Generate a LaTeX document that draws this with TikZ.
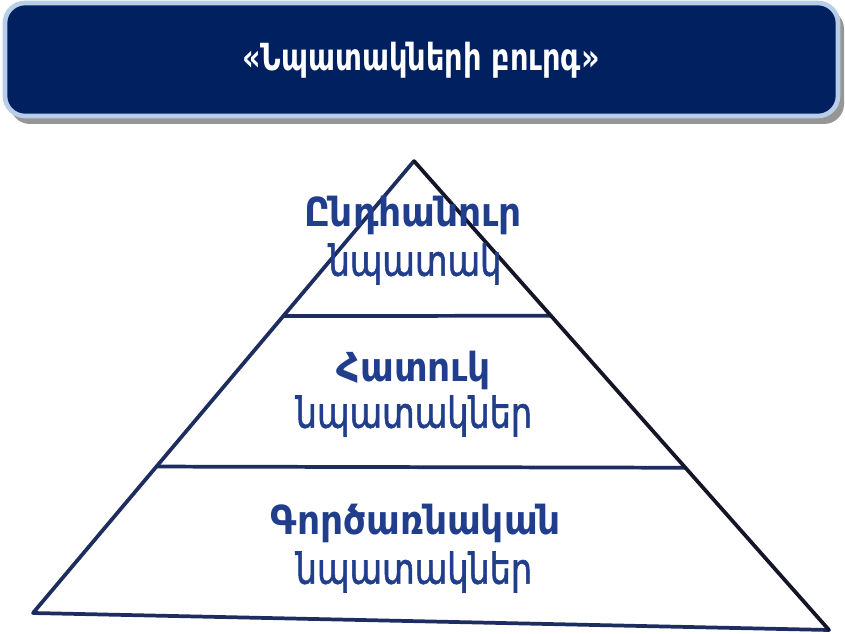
\documentclass[tikz,border=0pt]{standalone}
\usepackage{fontspec}
\usetikzlibrary{calc}
\newfontfamily\armfont{DejaVu Sans Condensed}
\newfontfamily\armsemi[FakeBold=1.4]{DejaVu Sans Condensed}
\definecolor{bannerfill}{RGB}{0,32,96}
\definecolor{bannerrim}{RGB}{184,206,232}
\definecolor{bannershadow}{RGB}{150,150,150}
\definecolor{edgenavy}{RGB}{30,45,95}
\definecolor{edgedark}{RGB}{20,22,40}
\definecolor{labelblue}{RGB}{32,62,140}
\newcommand{\tallsub}[1]{\scalebox{0.93}[1.06]{#1}}
\newcommand{\talltitle}[1]{\scalebox{0.96}[1.12]{#1}}
\tikzset{
  banner/.style={rounded corners=15, fill=bannerfill, draw=bannerrim, line width=3.5},
  edge/.style={line width=2.8, line join=round, line cap=round},
  levelhead/.style={text=labelblue, font=\armfont\bfseries\fontsize{30}{34}\selectfont, inner sep=0},
  levelsub/.style={text=labelblue, font=\armsemi\fontsize{30}{34}\selectfont, inner sep=0},
  titletext/.style={text=white, font=\armfont\bfseries\fontsize{25}{30}\selectfont, inner sep=0}
}
\begin{document}
\begin{tikzpicture}[x=0.75pt, y=-0.75pt]
  \useasboundingbox (0,0) rectangle (845,634);
  % title banner with its drop shadow
  \fill[bannershadow, rounded corners=15] (10,9) rectangle (844,124);
  \draw[banner] (5,3) rectangle (838,116);
  \node[titletext] (title) at (421,60) {\talltitle{«Նպատակների բուրգ»}};

  % pyramid corners and level boundaries
  \coordinate (apex) at (414,161);
  \coordinate (bl) at (33,613);
  \coordinate (br) at (829,630);
  \coordinate (l1) at ($(apex)!0.343!(bl)$);
  \coordinate (r1) at ($(apex)!0.330!(br)$);
  \coordinate (l2) at ($(apex)!0.676!(bl)$);
  \coordinate (r2) at ($(apex)!0.654!(br)$);
  \fill[white] (apex) -- (bl) -- (br) -- cycle;
  \draw[edge, edgenavy] (l1) -- (r1);
  \draw[edge, edgenavy] (l2) -- (r2);
  \draw[edge, edgenavy] (br) -- (bl) -- (apex);
  \draw[edge, edgedark] (apex) -- (br);

  % level labels
  \node[levelhead] (top1) at (413,215) {Ընդհանուր};
  \node[levelsub]  (top2) at (415,264) {\tallsub{նպատակ}};
  \node[levelhead] (mid1) at (414,370) {Հատուկ};
  \node[levelsub]  (mid2) at (414,416) {\tallsub{նպատակներ}};
  \node[levelhead] (low1) at (416,523) {Գործառնական};
  \node[levelsub]  (low2) at (414,572) {\tallsub{նպատակներ}};
\end{tikzpicture}
\end{document}
